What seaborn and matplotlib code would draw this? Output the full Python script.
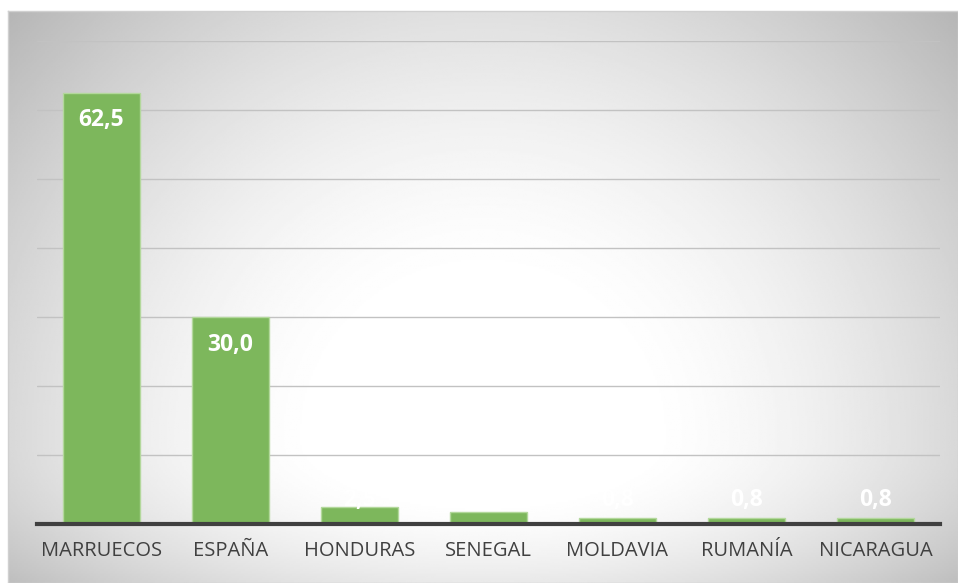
import numpy as np
import pandas as pd
import seaborn as sns
import matplotlib.pyplot as plt

# Data
paises = ['MARRUECOS', 'ESPAÑA', 'HONDURAS', 'SENEGAL', 'MOLDAVIA', 'RUMANÍA', 'NICARAGUA']
valores = [62.5, 30.0, 2.5, 1.7, 0.8, 0.8, 0.8]
etiquetas = ['62,5', '30,0', '2,5', '1,7', '0,8', '0,8', '0,8']

df = pd.DataFrame({'pais': paises, 'valor': valores})

sns.set_theme(style='white')
plt.rcParams['font.family'] = ['Open Sans', 'DejaVu Sans']

fig = plt.figure(figsize=(9.58, 5.83), dpi=100)
fig.patch.set_facecolor('white')

# Background with radial gradient (chart area), white centre lower-middle
bg = fig.add_axes([8 / 958, 0, 950 / 958, 572 / 583])
yy, xx = np.mgrid[0:1:300j, 0:1:500j]
cy = 0.25
sy = np.where(yy > cy, 0.9, 0.35)
r = np.sqrt(((xx - 0.5) / 0.55) ** 2 + ((yy - cy) / sy) ** 2)
shade = 1 - 0.25 * np.clip((r - 0.3) / 0.85, 0, 1.1) ** 1.5
bg.imshow(shade, cmap='gray', vmin=0, vmax=1, aspect='auto', extent=[0, 1, 0, 1], origin='lower')
bg.set_xticks([])
bg.set_yticks([])
for s in bg.spines.values():
    s.set_color('#d0d0d0')
    s.set_linewidth(1)

ax = fig.add_axes([37 / 958, 59 / 583, 903 / 958, 483 / 583])
ax.patch.set_alpha(0)

sns.barplot(data=df, x='pais', y='valor', color='#7db75c', saturation=1,
            width=0.6, edgecolor='#b3d89c', linewidth=1, ax=ax, zorder=3)

ax.set_ylim(0, 70)
ax.set_yticks(np.arange(10, 71, 10))
ax.yaxis.grid(True, color='#c2c2c2', linewidth=1, zorder=0)
ax.set_yticklabels([])
ax.tick_params(axis='y', length=0)
ax.set_xlabel('')
ax.set_ylabel('')
for side in ['top', 'right', 'left']:
    ax.spines[side].set_visible(False)
ax.spines['bottom'].set_color('#404040')
ax.spines['bottom'].set_linewidth(3)
ax.spines['bottom'].set_zorder(5)
ax.tick_params(axis='x', length=0, pad=12, labelsize=14.5, labelcolor='#404040')

# Value labels
for i, (v, t) in enumerate(zip(valores, etiquetas)):
    y = v - 4 if v > 10 else 3.5
    ax.text(i, y, t, ha='center', va='center', color='white',
            fontsize=16.5, fontweight='bold', zorder=6)

fig.savefig('out.png', dpi=100)
